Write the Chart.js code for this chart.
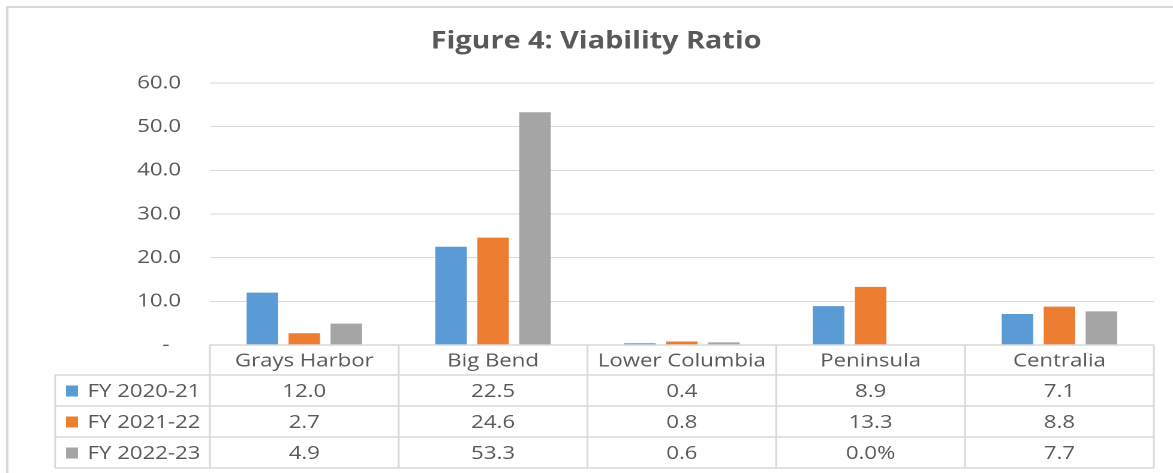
<!DOCTYPE html>
<html>
<head>
<meta charset="utf-8">
<script src="https://cdn.jsdelivr.net/npm/chart.js@4"></script>
<style>
  html, body { margin: 0; padding: 0; background: #ffffff; overflow: hidden; }
  #wrap { width: 1173px; height: 473px; overflow: hidden; }
  #c { display: block; transform: scaleX(1.1994); transform-origin: 0 0; }
</style>
</head>
<body>
<div id="wrap"><canvas id="c" width="978" height="473"></canvas></div>
<script>
// ---- data ----
const categories = ["Grays Harbor", "Big Bend", "Lower Columbia", "Peninsula", "Centralia"];
const seriesNames = ["FY 2020-21", "FY 2021-22", "FY 2022-23"];
const fy2021 = [12.0, 22.5, 0.4, 8.9, 7.1];
const fy2122 = [2.7, 24.6, 0.8, 13.3, 8.8];
const fy2223 = [4.9, 53.3, 0.6, 0.0, 7.7];
const yTicks = [0, 10, 20, 30, 40, 50, 60];
// the table shows this one cell formatted as a percentage
const tableTextOverrides = { "2:3": "0.0%" };
const seriesColors = ["#5b9bd5", "#ed7d31", "#a5a5a5"];

const FONT = "'Open Sans', 'Noto Sans', sans-serif";
const TEXT = "#595959";
const LINE = "#d9d9d9";

const seriesValues = [fy2021, fy2122, fy2223];

const tablePlugin = {
  id: 'dataTable',
  beforeDraw(chart) {
    const ctx = chart.ctx;
    ctx.save();
    ctx.fillStyle = '#ffffff';
    ctx.fillRect(0, 0, chart.width, chart.height);
    ctx.strokeStyle = LINE;
    ctx.lineWidth = 2;
    ctx.beginPath();
    ctx.moveTo(6, chart.height);
    ctx.lineTo(6, 7);
    ctx.lineTo(chart.width, 7);
    ctx.stroke();
    ctx.restore();
  },
  afterDraw(chart) {
    const ctx = chart.ctx;
    const area = chart.chartArea;
    const xs = chart.scales.x;
    const n = categories.length;
    const cw = (area.right - area.left) / n;
    const legendLeft = 46;
    const top = area.bottom;
    const headerH = 30;
    const rowH = 31;
    const rowTops = [top + headerH, top + headerH + rowH, top + headerH + 2 * rowH];
    const bottom = top + headerH + 3 * rowH;

    ctx.save();
    ctx.strokeStyle = LINE;
    ctx.lineWidth = 1.5;
    ctx.beginPath();
    ctx.moveTo(area.left, top); ctx.lineTo(area.right, top);
    rowTops.forEach(y => { ctx.moveTo(legendLeft, y); ctx.lineTo(area.right, y); });
    ctx.moveTo(legendLeft, bottom); ctx.lineTo(area.right, bottom);
    ctx.moveTo(legendLeft, rowTops[0]); ctx.lineTo(legendLeft, bottom);
    for (let i = 0; i <= n; i++) {
      const x = area.left + i * cw;
      ctx.moveTo(x, top); ctx.lineTo(x, bottom);
    }
    ctx.stroke();

    ctx.fillStyle = TEXT;
    ctx.font = "18.5px " + FONT;
    ctx.textBaseline = 'middle';
    ctx.textAlign = 'center';
    categories.forEach((c, i) => {
      ctx.fillText(c, xs.getPixelForValue(i), top + headerH / 2 + 1);
    });
    seriesValues.forEach((vals, s) => {
      const cy = rowTops[s] + rowH / 2 + 1;
      ctx.fillStyle = seriesColors[s];
      ctx.fillRect(55, cy - 6, 10, 11);
      ctx.fillStyle = TEXT;
      ctx.textAlign = 'left';
      ctx.fillText(seriesNames[s], 73, cy);
      ctx.textAlign = 'center';
      vals.forEach((v, i) => {
        const key = s + ":" + i;
        const txt = tableTextOverrides[key] !== undefined ? tableTextOverrides[key] : v.toFixed(1);
        ctx.fillText(txt, xs.getPixelForValue(i), cy);
      });
    });
    ctx.restore();
  }
};

new Chart(document.getElementById('c'), {
  type: 'bar',
  data: {
    labels: categories,
    datasets: seriesValues.map((vals, s) => ({
      label: seriesNames[s],
      data: vals,
      backgroundColor: seriesColors[s],
      borderWidth: 0,
      categoryPercentage: 0.667,
      barPercentage: 0.75
    }))
  },
  options: {
    responsive: false,
    animation: false,
    devicePixelRatio: 2,
    layout: { padding: { left: 32, right: 16, top: 0, bottom: 128 } },
    plugins: {
      legend: { display: false },
      tooltip: { enabled: false },
      title: {
        display: true,
        text: "Figure 4: Viability Ratio",
        color: TEXT,
        font: { family: FONT, size: 24, weight: 'bold', lineHeight: 1.2 },
        padding: { top: 27.5, bottom: 26.7 }
      }
    },
    scales: {
      x: { display: false },
      y: {
        min: 0, max: 60,
        afterFit(scale) { scale.width = 143; },
        afterBuildTicks(scale) { scale.ticks = yTicks.map(v => ({ value: v })); },
        border: { display: false },
        grid: { color: LINE, lineWidth: 1, drawTicks: false },
        ticks: {
          padding: 24,
          color: TEXT,
          font: { family: FONT, size: 18.5 },
          callback: v => v === 0 ? "-  " : Number(v).toFixed(1)
        }
      }
    }
  },
  plugins: [tablePlugin]
});
</script>
</body>
</html>
